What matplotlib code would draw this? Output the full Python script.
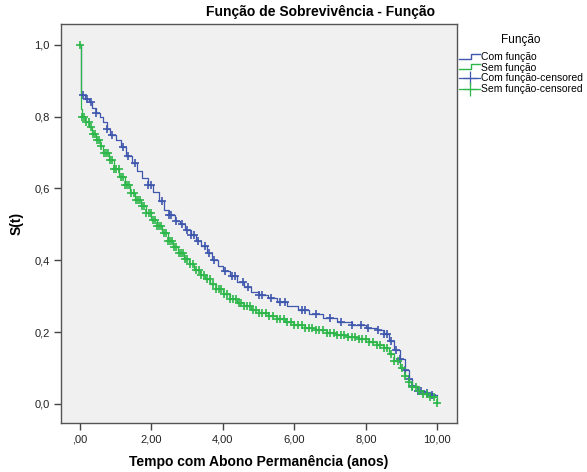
import numpy as np
import matplotlib.pyplot as plt
from matplotlib.lines import Line2D
from matplotlib.legend_handler import HandlerBase

plt.rcParams["font.family"] = ["Liberation Sans", "DejaVu Sans"]

# ---------------- dados ----------------
COM_T = [0.0, 0.02, 0.15, 0.25, 0.35, 0.45, 0.55, 0.65, 0.75, 0.85, 1.0, 1.15,
         1.3, 1.45, 1.6, 1.75, 1.9, 2.05, 2.2, 2.35, 2.5, 2.65, 2.8, 2.95, 3.1,
         3.25, 3.4, 3.55, 3.7, 3.85, 4.0, 4.2, 4.4, 4.6, 4.8, 5.0, 5.25, 5.5,
         5.8, 6.1, 6.4, 6.8, 7.2, 7.6, 8.0, 8.3, 8.5, 8.65, 8.8, 8.95, 9.1,
         9.2, 9.3, 9.45, 9.65, 9.85, 10.0]
COM_S = [1.0, 0.86, 0.85, 0.84, 0.825, 0.81, 0.80, 0.785, 0.765, 0.75, 0.735,
         0.715, 0.69, 0.67, 0.65, 0.63, 0.61, 0.59, 0.565, 0.54, 0.525, 0.51,
         0.50, 0.485, 0.47, 0.455, 0.44, 0.42, 0.40, 0.385, 0.37, 0.355, 0.34,
         0.325, 0.313, 0.303, 0.295, 0.285, 0.274, 0.262, 0.25, 0.238, 0.227,
         0.219, 0.212, 0.207, 0.195, 0.175, 0.15, 0.125, 0.095, 0.07, 0.05,
         0.035, 0.03, 0.026, 0.026]

SEM_T = [0.0, 0.02, 0.05, 0.15, 0.25, 0.35, 0.45, 0.55, 0.65, 0.8, 0.95, 1.1,
         1.25, 1.4, 1.55, 1.7, 1.85, 2.0, 2.15, 2.3, 2.45, 2.6, 2.75, 2.9,
         3.05, 3.2, 3.35, 3.5, 3.65, 3.8, 4.0, 4.2, 4.4, 4.6, 4.8, 5.0, 5.25,
         5.5, 5.75, 6.0, 6.3, 6.6, 6.9, 7.2, 7.5, 7.8, 8.1, 8.3, 8.5, 8.65,
         8.8, 8.95, 9.1, 9.2, 9.3, 9.45, 9.6, 9.8, 10.0]
SEM_S = [1.0, 0.82, 0.80, 0.785, 0.77, 0.752, 0.735, 0.718, 0.70, 0.68, 0.655,
         0.632, 0.61, 0.588, 0.568, 0.55, 0.532, 0.513, 0.495, 0.475, 0.455,
         0.438, 0.42, 0.404, 0.39, 0.374, 0.36, 0.347, 0.334, 0.32, 0.306,
         0.293, 0.282, 0.272, 0.262, 0.254, 0.245, 0.236, 0.228, 0.22, 0.212,
         0.205, 0.198, 0.192, 0.186, 0.18, 0.172, 0.165, 0.155, 0.14, 0.12,
         0.10, 0.078, 0.062, 0.047, 0.035, 0.027, 0.02, 0.004]

# tempos censurados
COM_CENS = [0.08, 0.2, 0.3, 0.45, 0.75, 0.9, 1.2, 1.35, 1.55, 1.9, 2.0, 2.3,
            2.5, 2.55, 2.7, 2.85, 3.0, 3.1, 3.2, 3.3, 3.5, 3.6, 3.75, 4.05,
            4.25, 4.35, 4.55, 4.7, 5.0, 5.1, 5.35, 5.6, 5.75, 6.2, 6.3, 6.6,
            7.0, 7.3, 7.6, 7.85, 8.05, 8.35, 8.5, 8.6, 8.7, 8.85, 8.95, 9.1,
            9.2, 9.3, 9.45, 9.55, 9.7, 9.85]
SEM_CENS = [0.0, 0.06, 0.12, 0.18, 0.24, 0.3, 0.36, 0.42, 0.48, 0.54, 0.6,
            0.66, 0.72, 0.78, 0.84, 0.9, 0.96, 1.02, 1.08, 1.14, 1.2, 1.26,
            1.32, 1.38, 1.44, 1.5, 1.56, 1.62, 1.68, 1.74, 1.8, 1.86, 1.92,
            1.98, 2.04, 2.1, 2.16, 2.22, 2.28, 2.34, 2.4, 2.46, 2.52, 2.58,
            2.64, 2.7, 2.76, 2.82, 2.88, 2.94, 3.0, 3.08, 3.16, 3.24, 3.32,
            3.4, 3.48, 3.56, 3.64, 3.72, 3.8, 3.88, 3.96, 4.04, 4.12, 4.2,
            4.28, 4.36, 4.44, 4.52, 4.6, 4.68, 4.76, 4.84, 4.92, 5.0, 5.1,
            5.2, 5.3, 5.4, 5.5, 5.6, 5.7, 5.8, 5.9, 6.0, 6.1, 6.2, 6.3, 6.4,
            6.5, 6.6, 6.7, 6.8, 6.9, 7.0, 7.1, 7.2, 7.3, 7.4, 7.5, 7.6, 7.7,
            7.8, 7.9, 8.0, 8.1, 8.2, 8.3, 8.4, 8.5, 8.6, 8.7, 8.8, 8.9, 9.0,
            9.1, 9.2, 9.3, 9.4, 9.5, 9.6, 9.7, 9.8, 9.9, 10.0]

X_TICKS = [0, 2, 4, 6, 8, 10]
X_LABELS = [",00", "2,00", "4,00", "6,00", "8,00", "10,00"]
Y_TICKS = [0.0, 0.2, 0.4, 0.6, 0.8, 1.0]
Y_LABELS = ["0,0", "0,2", "0,4", "0,6", "0,8", "1,0"]

BLUE = "#3f57ad"
GREEN = "#2db74a"


def step_value(t_knots, s_knots, t):
    idx = np.searchsorted(t_knots, t, side="right") - 1
    return np.asarray(s_knots)[idx]


class StepHandler(HandlerBase):
    def create_artists(self, legend, orig, xd, yd, w, h, fs, trans):
        xs = [xd, xd + w * 0.55, xd + w * 0.55, xd + w]
        ys = [yd + h * 0.15, yd + h * 0.15, yd + h * 0.85, yd + h * 0.85]
        ln = Line2D(xs, ys, color=orig.get_color(), lw=1.0, transform=trans)
        return [ln]


fig = plt.figure(figsize=(5.87, 4.72), dpi=100)
ax = fig.add_axes([61 / 587, 1 - 423 / 472, 396 / 587, 399 / 472])
ax.set_facecolor("#f0f0f0")

l1, = ax.step(COM_T, COM_S, where="post", color=BLUE, lw=0.9)
l2, = ax.step(SEM_T, SEM_S, where="post", color=GREEN, lw=0.9)
ax.plot(COM_CENS, step_value(COM_T, COM_S, COM_CENS), "+", color=BLUE,
        ms=5.5, mew=1.2)
ax.plot(SEM_CENS, step_value(SEM_T, SEM_S, SEM_CENS), "+", color=GREEN,
        ms=5.5, mew=1.2)

ax.set_xlim(-0.53, 10.55)
ax.set_ylim(-0.053, 1.058)
ax.set_xticks(X_TICKS)
ax.set_xticklabels(X_LABELS)
ax.set_yticks(Y_TICKS)
ax.set_yticklabels(Y_LABELS)
ax.tick_params(length=5, width=1, color="#444444", labelsize=8, pad=3,
               labelcolor="#222222")
for sp in ax.spines.values():
    sp.set_color("#555555")
    sp.set_linewidth(1)

ax.set_xlabel("Tempo com Abono Permanência (anos)", fontsize=10,
              fontweight="bold", labelpad=8)
ax.set_ylabel("S(t)", fontsize=10, fontweight="bold", labelpad=8)
fig.text(320 / 587, 1 - 12 / 472, "Função de Sobrevivência - Função",
         ha="center", va="center", fontsize=10, fontweight="bold")

h3 = Line2D([], [], color=BLUE, marker="+", ms=10, lw=0.9, mew=0.9)
h4 = Line2D([], [], color=GREEN, marker="+", ms=10, lw=0.9, mew=0.9)
leg = fig.legend([l1, l2, h3, h4],
                 ["Com função", "Sem função", "Com função-censored",
                  "Sem função-censored"],
                 title="Função", loc="upper left",
                 bbox_to_anchor=(455 / 587, 1 - 30 / 472), frameon=False,
                 fontsize=7.5, title_fontsize=8.5, handlelength=2.0,
                 handletextpad=0.1, labelspacing=0.08, borderaxespad=0,
                 handler_map={l1: StepHandler(), l2: StepHandler()})
leg._legend_box.align = "center"
leg._legend_box.sep = 4

fig.savefig("out.png", dpi=100)
